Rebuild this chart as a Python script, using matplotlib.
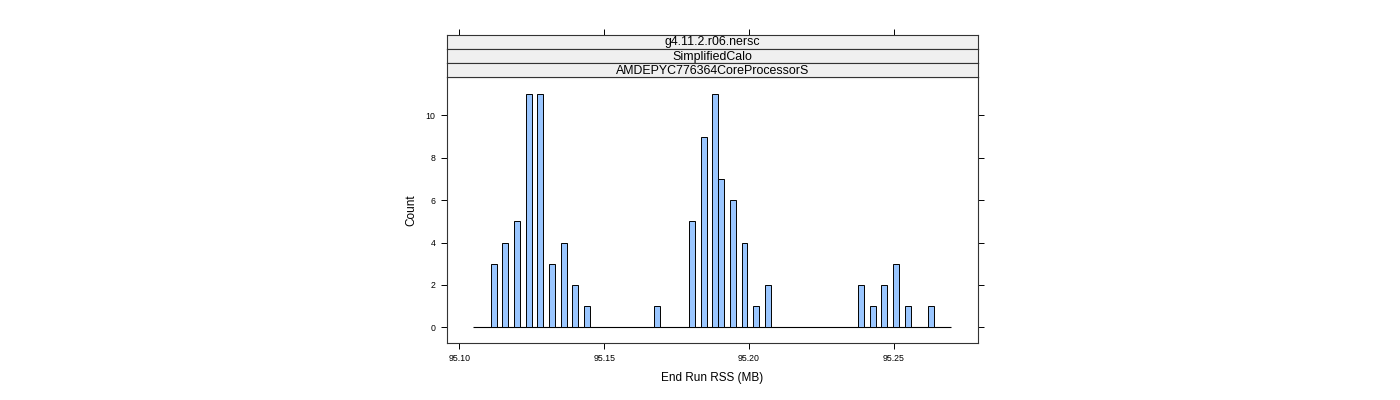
import numpy as np
import matplotlib
matplotlib.use("Agg")
import matplotlib.pyplot as plt

plt.rcParams['font.family'] = ['Liberation Sans', 'DejaVu Sans']

# ---- data ----
strip_labels = ["g4.11.2.r06.nersc", "SimplifiedCalo", "AMDEPYC776364CoreProcessorS"]
bin_start = 95.1048      # left edge of first histogram bin (MB)
bin_width = 0.002013     # bin width (MB)
n_bins = 82
bar_bins = [3, 5, 7, 9, 11, 13, 15, 17, 19,
            31, 37, 39, 41, 42, 44, 46, 48, 50,
            66, 68, 70, 72, 74, 78]
bar_counts = [3, 4, 5, 11, 11, 3, 4, 2, 1,
              1, 5, 9, 11, 7, 6, 4, 1, 2,
              2, 1, 2, 3, 1, 1]
x_ticks = [95.10, 95.15, 95.20, 95.25]
x_ticklabels = ["95.10", "95.15", "95.20", "95.25"]
y_ticks = [0, 2, 4, 6, 8, 10]
xlabel = "End Run RSS (MB)"
ylabel = "Count"

counts = np.zeros(n_bins)
counts[bar_bins] = bar_counts
edges = bin_start + bin_width * np.arange(n_bins)

W, H = 1400, 400
fig = plt.figure(figsize=(14, 4), dpi=100)

def px_axes(x0, y0, x1, y1):
    return fig.add_axes([x0 / W, 1 - y1 / H, (x1 - x0) / W, (y1 - y0) / H])

xlim = (95.095616, 95.27914)
ylim = (-0.755, 11.80)

ax = px_axes(446.7, 77.3, 978.3, 343.3)
ax.hlines(0, edges[0], edges[-1] + bin_width, color='black', linewidth=0.8)
nz = counts > 0
ax.bar(edges[nz], counts[nz], width=bin_width, align='edge', color='#9AC6FF',
       edgecolor='black', linewidth=0.7, zorder=3)
ax.set_xlim(*xlim)
ax.set_ylim(*ylim)
ax.set_xticks(x_ticks)
ax.set_xticklabels(x_ticklabels)
ax.set_yticks(y_ticks)
ax.tick_params(axis='both', direction='out', length=4.5, width=0.7,
               labelsize=6.3, pad=3.5, colors='black')
ax.tick_params(axis='y', right=True, labelright=False)
for s in ax.spines.values():
    s.set_linewidth(0.8)
    s.set_color('#333333')
ax.set_xlabel(xlabel, fontsize=8.5, labelpad=6.5)
ax.set_ylabel(ylabel, fontsize=8.5, labelpad=6)

# strips
strip_y = [34.7, 49.0, 63.2, 77.3]
for i, lab in enumerate(strip_labels):
    sa = px_axes(446.7, strip_y[i], 978.3, strip_y[i + 1])
    sa.set_facecolor('#F0F0F0')
    sa.set_xlim(*xlim)
    sa.set_ylim(0, 1)
    sa.set_yticks([])
    if i == 0:
        sa.set_xticks(x_ticks)
        sa.tick_params(axis='x', bottom=False, top=True, labelbottom=False,
                       labeltop=False, direction='out', length=4.5, width=0.7)
    else:
        sa.set_xticks([])
    for s in sa.spines.values():
        s.set_linewidth(0.8)
        s.set_color('#333333')
    sa.text(0.5, 0.47, lab, transform=sa.transAxes, ha='center', va='center',
            fontsize=8.9)

fig.savefig("out.png", dpi=100)
